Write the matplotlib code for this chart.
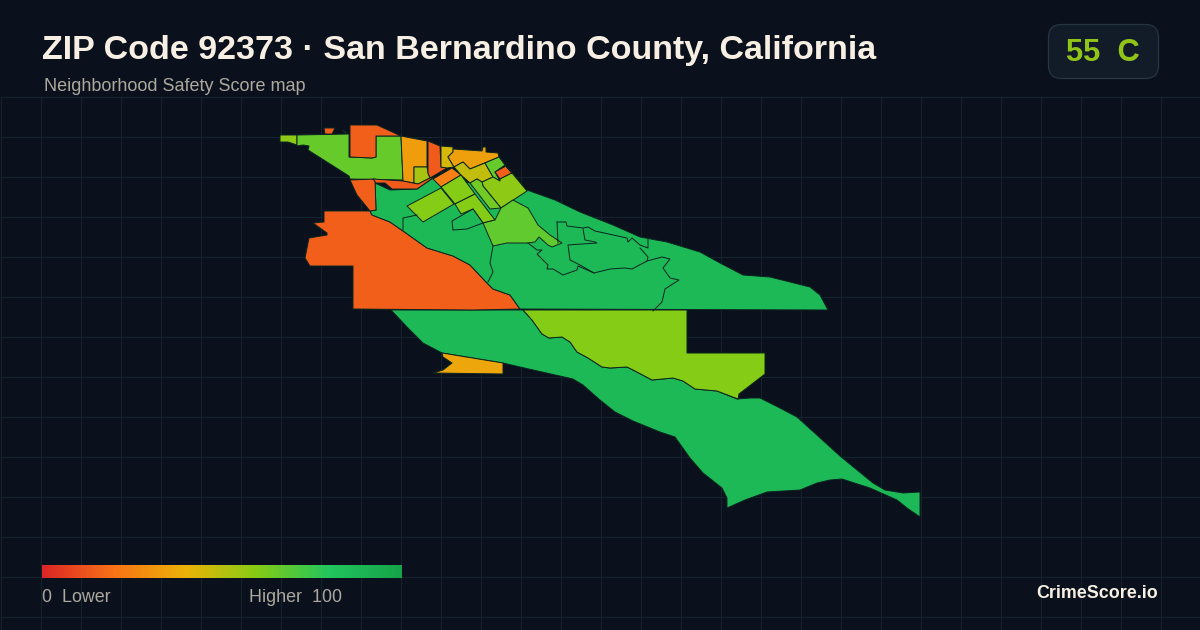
import matplotlib
matplotlib.use("Agg")
import matplotlib.pyplot as plt
import numpy as np
from matplotlib.colors import LinearSegmentedColormap
from matplotlib.patches import FancyBboxPatch, Polygon

TITLE = "ZIP Code 92373 · San Bernardino County, California"
SUBTITLE = "Neighborhood Safety Score map"
BADGE = "55  C"
BRAND = "CrimeScore.io"
LEGEND_LEFT = "0  Lower"
LEGEND_RIGHT = "Higher  100"

RAMP_STOPS = [0.0, 0.2, 0.4, 0.6, 0.8, 1.0]
RAMP_COLORS = ["#dc2626", "#f97316", "#eab308", "#84cc16", "#22c55e", "#16a34a"]

south_band = [(391,310),(523,310),(532,320),(542,334),(549,338),(562,337),(570,342),(577,352),(588,358),(602,367),(610,368),(627,367),(635,371),(652,380),(673,378),(683,381),(695,389),(717,391),(737,399),(750,398),(760,398),(778,407),(797,417),(818,436),(840,456),(873,483),(885,490),(903,493),(920,492),(920,517),(907,508),(897,500),(870,488),(842,479),(830,480),(817,483),(800,490),(767,492),(745,500),(727,508),(727,498),(722,488),(703,473),(690,458),(675,437),(660,432),(633,421),(615,412),(600,400),(583,385),(573,379),(520,367),(503,363),(442,353),(423,343),(408,328)]
lime_block = [(523,310),(687,310),(687,353),(765,353),(765,374),(739,394),(738,399),(717,391),(695,389),(683,381),(673,378),(652,380),(635,371),(627,367),(610,368),(602,367),(588,358),(577,352),(570,342),(562,337),(549,338),(542,334),(532,320)]
amber_sliver = [(442,353),(503,363),(503,374),(433,373),(443,370),(452,363),(443,357)]
west_block = [(324,211),(370,211),(372,215),(390,222),(403,231),(427,248),(453,256),(470,265),(487,283),(493,289),(510,295),(520,309),(473,310),(353,309),(353,266),(310,266),(305,258),(309,238),(327,235),(327,233),(313,223),(324,222)]
central_green = [(370,211),(376,210),(375,183),(390,190),(417,189),(433,178),(527,190),(555,200),(580,212),(613,225),(640,237),(667,242),(700,252),(720,263),(743,275),(770,277),(810,287),(820,295),(828,310),(520,309),(510,295),(493,289),(487,283),(470,265),(453,256),(427,248),(403,231),(390,222),(372,215)]
t1 = [(280,135),(297,135),(297,145),(288,142),(280,142)]
t2 = [(297,135),(349,134),(349,157),(372,158),(376,157),(376,136),(401,136),(403,180),(350,179),(349,176),(308,150),(309,146),(303,145),(297,146)]
t3 = [(350,125),(377,125),(401,136),(376,136),(376,157),(372,158),(350,157)]
t3a = [(324,128),(335,128),(332,134),(325,134)]
t3b = [(342,130),(348,133),(345,133)]
t4 = [(401,136),(427,141),(427,167),(414,167),(414,183),(403,181)]
t5 = [(414,167),(427,167),(428,173),(430,178),(418,184),(414,183)]
t6 = [(428,141),(440,146),(441,167),(447,168),(430,178),(428,173)]
t7 = [(441,146),(453,147),(453,152),(448,157),(454,167),(447,168),(441,167)]
t8 = [(453,149),(482,151),(483,147),(486,147),(486,152),(498,153),(499,157),(470,169),(463,162),(454,167),(448,157),(453,152)]
t9 = [(350,180),(375,179),(376,210),(370,211),(357,195)]
t10 = [(373,179),(403,181),(418,184),(430,178),(433,178),(417,189),(392,189),(385,183),(376,183)]
t11 = [(433,179),(452,168),(461,175),(441,187)]
t12 = [(454,167),(463,162),(470,169),(485,163),(493,177),(482,182),(477,179),(470,183),(461,175)]
t13 = [(485,163),(499,157),(505,165),(495,172),(500,181),(493,177)]
t14 = [(495,172),(506,166),(512,173),(500,179)]
t15 = [(505,165),(512,173),(527,191),(501,208),(483,186),(482,182),(493,177),(500,181),(500,179),(512,173)]
t16 = [(477,179),(482,182),(483,186),(501,208),(490,209),(470,183)]
t17 = [(441,187),(461,175),(475,194),(455,204)]
t18 = [(407,206),(441,188),(454,204),(423,222)]
t19 = [(455,204),(475,194),(495,220),(483,223),(473,209),(461,214)]
t20 = [(452,221),(473,209),(483,223),(467,229),(453,230)]
t21 = [(501,208),(513,200),(528,208),(538,225),(550,235),(562,243),(552,247),(548,245),(539,237),(535,242),(528,243),(507,243),(493,246),(483,223),(495,220)]

tracts = [south_band, lime_block, amber_sliver, west_block, central_green, t1, t2, t3, t3a, t3b, t4, t5, t6, t7, t8,
          t9, t10, t11, t12, t13, t14, t15, t16, t17, t18, t19, t20, t21]
scores = [87, 60, 36, 15, 87, 58, 66, 15, 15, 15, 33, 53, 14, 44, 34,
          15, 14, 24, 48, 66, 15, 58, 64, 60, 60, 60, 87, 67]

# Same-score tract boundaries inside the central green area
inner_a = [(557,222),(566,222),(567,226),(583,228),(588,227),(595,231),(627,238),(628,242),(632,238),(640,245),(648,248),(648,239)]
inner_b = [(640,248),(648,257),(647,261),(632,269),(625,268),(610,269),(594,273),(580,265),(570,260),(568,245),(582,244),(597,243),(595,242),(585,240),(583,229)]
inner_c = [(557,222),(558,243)]
inner_d = [(528,243),(537,250),(542,250),(537,254),(548,265),(547,269),(553,269),(563,275),(577,270),(578,266),(594,273)]
inner_e = [(647,261),(662,257),(670,259),(663,268),(670,278),(679,280),(665,289),(662,302),(653,311)]
inner_f = [(493,246),(490,263),(493,272),(488,282)]
inner_g = [(403,230),(403,218),(417,215)]
inner_lines = [inner_a, inner_b, inner_c, inner_d, inner_e, inner_f, inner_g]

BG = "#0a111c"
GRID = "#15232e"
EDGE = "#0b2420"
CREAM = "#f7efe3"
MUTED = "#aca89e"

cmap = LinearSegmentedColormap.from_list("score", list(zip(RAMP_STOPS, RAMP_COLORS)))

fig = plt.figure(figsize=(12, 6.3), dpi=100, facecolor=BG)
ax = fig.add_axes([0, 0, 1, 1])
ax.set_xlim(0, 1200)
ax.set_ylim(630, 0)
ax.axis("off")

ax.vlines(np.arange(0.5, 1200, 40), 96, 630, color=GRID, lw=0.8, zorder=1)
ax.hlines(np.arange(96.5, 630, 40), 0, 1200, color=GRID, lw=0.8, zorder=1)

for pts, score in zip(tracts, scores):
    ax.add_patch(Polygon(pts, closed=True, facecolor=cmap(score / 100), edgecolor=EDGE,
                         lw=0.7, joinstyle="round", zorder=2))
for line in inner_lines:
    xs, ys = zip(*line)
    ax.plot(xs, ys, color=EDGE, lw=0.7, zorder=3, solid_joinstyle="round")

ax.text(42, 50, TITLE, color=CREAM, family="Liberation Sans", weight="bold",
        fontsize=24.5, va="center", ha="left", zorder=5)
ax.text(44, 86.5, SUBTITLE, color=MUTED, family="Liberation Sans",
        fontsize=12.95, va="center", ha="left", zorder=5)

ax.add_patch(FancyBboxPatch((1048.5, 24.5), 110, 54, boxstyle="round,pad=0,rounding_size=13",
                            facecolor="#111c28", edgecolor="#263443", lw=0.9, zorder=4))
ax.text(1103, 53, BADGE, color="#90c418", family="Liberation Sans", weight="bold",
        fontsize=22.2, va="center", ha="center", zorder=5)

ramp = np.linspace(0, 1, 360).reshape(1, -1)
ax.imshow(ramp, cmap=cmap, extent=(42, 402, 578, 565), aspect="auto", zorder=4, vmin=0, vmax=1)
ax.set_xlim(0, 1200)
ax.set_ylim(630, 0)

ax.text(42, 597.5, LEGEND_LEFT, color=MUTED, family="Liberation Sans",
        fontsize=12.9, va="center", ha="left", zorder=5)
ax.text(249, 597.5, LEGEND_RIGHT, color=MUTED, family="Liberation Sans",
        fontsize=12.9, va="center", ha="left", zorder=5)
ax.text(1158, 594, BRAND, color=CREAM, family="Liberation Sans", weight="bold",
        fontsize=12.9, va="center", ha="right", zorder=5)

fig.savefig("out.png", dpi=100, facecolor=BG)
